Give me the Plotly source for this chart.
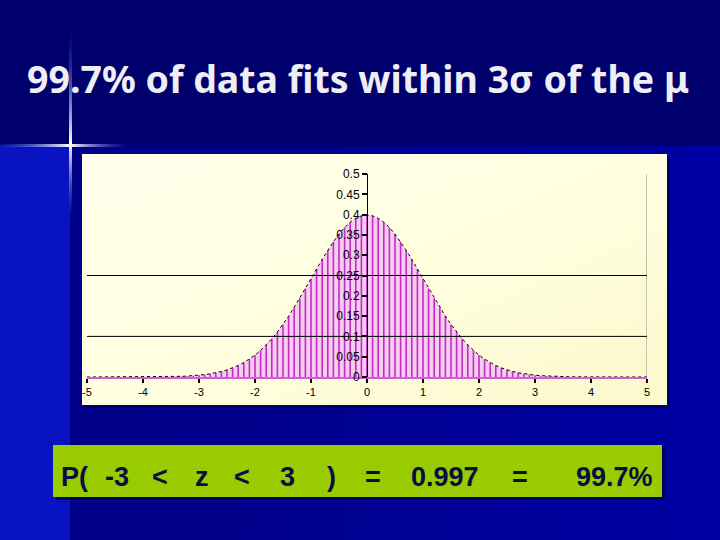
import base64
import plotly.graph_objects as go

W, H = 720, 540

# ---------------- data ----------------
z_values = [-5.0, -4.9, -4.8, -4.7, -4.6, -4.5, -4.4, -4.3, -4.2, -4.1,
            -4.0, -3.9, -3.8, -3.7, -3.6, -3.5, -3.4, -3.3, -3.2, -3.1,
            -3.0, -2.9, -2.8, -2.7, -2.6, -2.5, -2.4, -2.3, -2.2, -2.1,
            -2.0, -1.9, -1.8, -1.7, -1.6, -1.5, -1.4, -1.3, -1.2, -1.1,
            -1.0, -0.9, -0.8, -0.7, -0.6, -0.5, -0.4, -0.3, -0.2, -0.1,
            0.0, 0.1, 0.2, 0.3, 0.4, 0.5, 0.6, 0.7, 0.8, 0.9,
            1.0, 1.1, 1.2, 1.3, 1.4, 1.5, 1.6, 1.7, 1.8, 1.9,
            2.0, 2.1, 2.2, 2.3, 2.4, 2.5, 2.6, 2.7, 2.8, 2.9,
            3.0, 3.1, 3.2, 3.3, 3.4, 3.5, 3.6, 3.7, 3.8, 3.9,
            4.0, 4.1, 4.2, 4.3, 4.4, 4.5, 4.6, 4.7, 4.8, 4.9, 5.0]

density = [0.0, 0.0, 0.0, 0.0, 0.0, 0.0, 0.0, 0.0, 0.0, 0.0,
           0.0001, 0.0002, 0.0003, 0.0004, 0.0006, 0.0009, 0.0012, 0.0017, 0.0024, 0.0033,
           0.0044, 0.0060, 0.0079, 0.0104, 0.0136, 0.0175, 0.0224, 0.0283, 0.0355, 0.0440,
           0.0540, 0.0656, 0.0790, 0.0940, 0.1109, 0.1295, 0.1497, 0.1714, 0.1942, 0.2179,
           0.2420, 0.2661, 0.2897, 0.3123, 0.3332, 0.3521, 0.3683, 0.3814, 0.3910, 0.3970,
           0.3989, 0.3970, 0.3910, 0.3814, 0.3683, 0.3521, 0.3332, 0.3123, 0.2897, 0.2661,
           0.2420, 0.2179, 0.1942, 0.1714, 0.1497, 0.1295, 0.1109, 0.0940, 0.0790, 0.0656,
           0.0540, 0.0440, 0.0355, 0.0283, 0.0224, 0.0175, 0.0136, 0.0104, 0.0079, 0.0060,
           0.0044, 0.0033, 0.0024, 0.0017, 0.0012, 0.0009, 0.0006, 0.0004, 0.0003, 0.0002,
           0.0001, 0.0, 0.0, 0.0, 0.0, 0.0, 0.0, 0.0, 0.0, 0.0, 0.0]

reference_levels = [0.25, 0.1]
x_ticks = [-5, -4, -3, -2, -1, 0, 1, 2, 3, 4, 5]
y_ticks = [0, 0.05, 0.1, 0.15, 0.2, 0.25, 0.3, 0.35, 0.4, 0.45, 0.5]
y_tick_labels = ["0", "0.05", "0.1", "0.15", "0.2", "0.25", "0.3", "0.35", "0.4", "0.45", "0.5"]

title_text = "99.7% of data fits within 3σ of the μ"
formula_parts = ["P(", "-3", "<", "z", "<", "3", ")", "=", "0.997", "=", "99.7%"]

# ---------------- background (gradients via svg) ----------------
svg = f"""<svg xmlns='http://www.w3.org/2000/svg' width='{W}' height='{H}' viewBox='0 0 {W} {H}'>
<defs>
<linearGradient id='low' x1='0' y1='0' x2='1' y2='0'>
<stop offset='0' stop-color='#000086'/>
<stop offset='0.35' stop-color='#00008C'/>
<stop offset='1' stop-color='#0000A4'/>
</linearGradient>
<linearGradient id='chart' x1='0' y1='0' x2='1' y2='1'>
<stop offset='0' stop-color='#FFFFEC'/>
<stop offset='0.5' stop-color='#FFFFE0'/>
<stop offset='1' stop-color='#FCF8CC'/>
</linearGradient>
<linearGradient id='hl' x1='0' y1='0' x2='130' y2='0' gradientUnits='userSpaceOnUse'>
<stop offset='0' stop-color='#3050E0' stop-opacity='0.2'/>
<stop offset='0.54' stop-color='#FFFFFF' stop-opacity='1'/>
<stop offset='1' stop-color='#3050E0' stop-opacity='0'/>
</linearGradient>
<linearGradient id='vl' x1='0' y1='30' x2='0' y2='220' gradientUnits='userSpaceOnUse'>
<stop offset='0' stop-color='#3050E0' stop-opacity='0'/>
<stop offset='0.6' stop-color='#FFFFFF' stop-opacity='1'/>
<stop offset='1' stop-color='#3050E0' stop-opacity='0'/>
</linearGradient>
</defs>
<rect width='{W}' height='{H}' fill='#00006C'/>
<rect x='0' y='146' width='{W}' height='{H-146}' fill='url(#low)'/>
<rect x='0' y='146' width='70' height='{H-146}' fill='#0814C2'/>
<rect x='0' y='144' width='130' height='3' fill='url(#hl)'/>
<rect x='69' y='30' width='3' height='190' fill='url(#vl)'/>
<rect x='85' y='157' width='585' height='251' fill='#000058' opacity='0.8'/>
<rect x='56' y='448' width='609' height='52' fill='#000050' opacity='0.8'/>
<rect x='82' y='154' width='585' height='251' fill='url(#chart)'/>
</svg>"""
svg_uri = "data:image/svg+xml;base64," + base64.b64encode(svg.encode("utf-8")).decode("ascii")

# ---------------- figure ----------------
fig = go.Figure()

# light pink area under the curve
fig.add_trace(go.Scatter(
    x=z_values, y=density, mode="lines", fill="tozeroy",
    fillcolor="#F6CCF0", line=dict(width=0), hoverinfo="skip", showlegend=False))

# magenta drop lines (error bars from each point down to zero)
fig.add_trace(go.Scatter(
    x=z_values, y=density, mode="markers", marker=dict(size=1, opacity=0),
    error_y=dict(type="data", symmetric=False, array=[0] * len(density),
                 arrayminus=density, width=0, thickness=1.6, color="#C42AC4"),
    hoverinfo="skip", showlegend=False))

# dotted curve
fig.add_trace(go.Scatter(
    x=z_values, y=density, mode="lines",
    line=dict(color="#000000", width=1, dash="dot"), hoverinfo="skip", showlegend=False))

x0_px, x1_px = 87, 647
ybot_px, ytop_px = 377, 174

shapes = []
for lvl in reference_levels:
    shapes.append(dict(type="line", xref="x", yref="y", x0=-5, x1=5, y0=lvl, y1=lvl,
                       line=dict(color="#000000", width=1), layer="above"))
# right border line at x = 5
shapes.append(dict(type="line", xref="x", yref="y", x0=5, x1=5, y0=0, y1=0.5,
                   line=dict(color="#8C8C8C", width=1), layer="below"))
# green formula box
shapes.append(dict(type="rect", xref="paper", yref="paper",
                   x0=53 / W, x1=662 / W, y0=1 - 497 / H, y1=1 - 445 / H,
                   fillcolor="#99CC00", line=dict(width=0), layer="above"))

annotations = [dict(
    text=f"<b>{title_text}</b>", xref="paper", yref="paper",
    x=358 / W, y=1 - 78.5 / H, xanchor="center", yanchor="middle", showarrow=False,
    font=dict(family="Noto Sans", size=37.5, color="#EEEEF4"))]

formula_x = [59, 103, 150, 193, 232, 278, 324.5, 363, 409, 510, 574]
for txt, px in zip(formula_parts, formula_x):
    annotations.append(dict(
        text=f"<b>{txt}</b>", xref="paper", yref="paper",
        x=px / W, y=1 - 477 / H, xanchor="left", yanchor="middle", showarrow=False,
        font=dict(family="Liberation Sans, Arial, sans-serif", size=27, color="#0C0C40")))

fig.update_layout(
    width=W, height=H,
    margin=dict(l=0, r=0, t=0, b=0, pad=0, autoexpand=False),
    paper_bgcolor="#00006C",
    plot_bgcolor="rgba(0,0,0,0)",
    showlegend=False,
    images=[dict(source=svg_uri, xref="paper", yref="paper", x=0, y=1,
                 sizex=1, sizey=1, sizing="stretch", xanchor="left", yanchor="top",
                 layer="below")],
    shapes=shapes,
    annotations=annotations,
    xaxis=dict(
        domain=[x0_px / W, x1_px / W], range=[-5, 5], automargin=False,
        tickmode="array", tickvals=x_ticks, ticktext=[str(t) for t in x_ticks],
        ticks="outside", ticklen=4, tickwidth=2, tickcolor="#000000",
        showline=True, linecolor="#D060D0", linewidth=2,
        showgrid=False, zeroline=False,
        tickfont=dict(family="Liberation Sans, Arial, sans-serif", size=11, color="#000000"),
        fixedrange=True),
    yaxis=dict(
        domain=[1 - ybot_px / H, 1 - ytop_px / H], range=[0, 0.5], automargin=False,
        anchor="free", position=367 / W, side="left",
        tickmode="array", tickvals=y_ticks, ticktext=y_tick_labels,
        ticks="outside", ticklen=5, tickwidth=2, tickcolor="#000000",
        showline=True, linecolor="#000000", linewidth=1,
        showgrid=False, zeroline=False,
        tickfont=dict(family="Liberation Sans, Arial, sans-serif", size=12, color="#000000"),
        fixedrange=True),
)

fig.write_html(
    "out.html",
    config={"displayModeBar": False},
    post_script=("document.documentElement.style.margin='0';"
                 "document.documentElement.style.overflow='hidden';"
                 "document.body.style.margin='0';document.body.style.padding='0';"
                 "document.body.style.overflow='hidden';"),
)
